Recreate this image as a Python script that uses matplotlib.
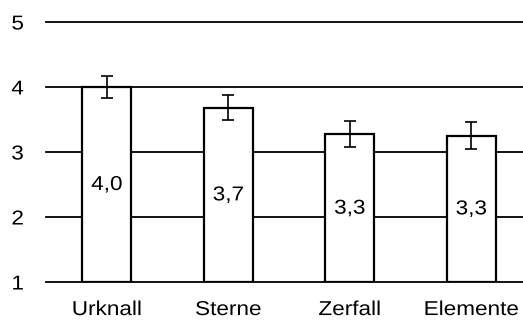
import matplotlib.pyplot as plt
import numpy as np
from matplotlib.patheffects import AbstractPathEffect
from matplotlib.transforms import Affine2D

kategorien = ["Urknall", "Sterne", "Zerfall", "Elemente"]
mittelwerte = [4.0, 3.68, 3.27, 3.25]
fehler = [0.165, 0.195, 0.2, 0.21]
beschriftung = ["4,0", "3,7", "3,3", "3,3"]

plt.rcParams['font.family'] = ['Liberation Sans', 'DejaVu Sans']


class Breit(AbstractPathEffect):
    # Schrift horizontal strecken (Original wirkt breiter als Arial)
    def __init__(self, sx=1.12, anker="center"):
        super().__init__()
        self.sx = sx
        self.anker = anker

    def draw_path(self, renderer, gc, tpath, affine, rgbFace=None):
        v = affine.transform(tpath.vertices)
        x0, x1 = np.nanmin(v[:, 0]), np.nanmax(v[:, 0])
        a = {"center": (x0 + x1) / 2, "right": x1, "left": x0}[self.anker]
        neu = affine + Affine2D().translate(-a, 0).scale(self.sx, 1).translate(a, 0)
        renderer.draw_path(gc, tpath, neu, rgbFace)


fs = 14.5

fig = plt.figure(figsize=(5.23, 3.2), dpi=100)
ax = fig.add_axes([46/523, 38/320, 486/523, 260/320])

x = np.arange(len(kategorien))
for y in range(1, 6):
    ax.axhline(y, color="black", lw=1.3, zorder=1, clip_on=False)

ax.bar(x, np.array(mittelwerte) - 1, bottom=1, width=0.4, color="white",
       edgecolor="black", linewidth=1.6, zorder=2)
ax.errorbar(x, mittelwerte, yerr=fehler, fmt="none", ecolor="black",
            elinewidth=1.2, capsize=4, capthick=1.2, zorder=3)

for xi, m, t in zip(x, mittelwerte, beschriftung):
    ax.text(xi, (m + 1) / 2, t, ha="center", va="center", fontsize=fs, zorder=4,
            path_effects=[Breit()])

ax.set_xlim(-0.5, 3.5)
ax.set_ylim(1, 5)
ax.set_xticks(x)
ax.set_xticklabels(kategorien, fontsize=fs)
ax.set_yticks([1, 2, 3, 4, 5])
ax.set_yticklabels(["1", "2", "3", "4", "5"], fontsize=fs)
ax.tick_params(length=0, axis="y", pad=16)
ax.tick_params(length=0, axis="x", pad=13)
for lab in ax.get_xticklabels():
    lab.set_path_effects([Breit()])
for lab in ax.get_yticklabels():
    lab.set_path_effects([Breit(anker="right")])
for s in ax.spines.values():
    s.set_visible(False)

fig.savefig("out.png", dpi=100)
